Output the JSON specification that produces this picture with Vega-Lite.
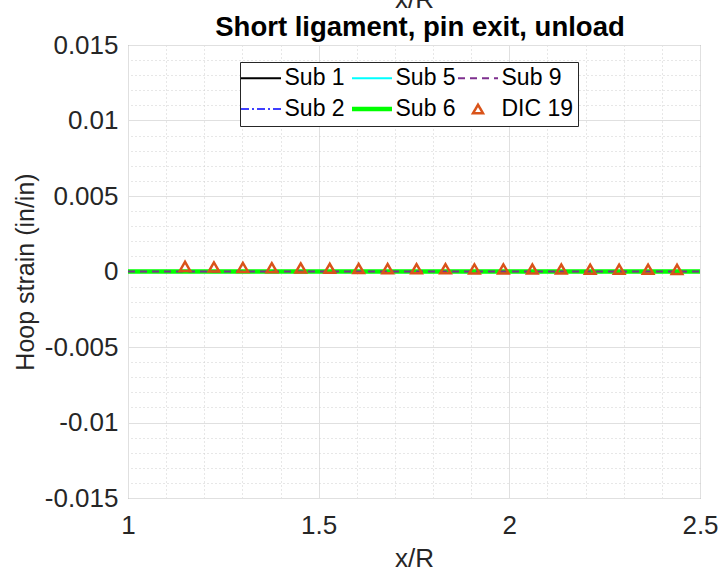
{
  "$schema": "https://vega.github.io/schema/vega-lite/v6.json",
  "width": 572,
  "height": 453,
  "autosize": {"type": "none"},
  "padding": {"left": 128, "top": 45, "right": 18, "bottom": 80},
  "background": "white",
  "title": {
    "text": "Short ligament, pin exit, unload",
    "font": "Liberation Sans",
    "fontSize": 27.5,
    "fontWeight": "bold",
    "color": "black",
    "anchor": "middle",
    "frame": "group",
    "offset": -55,
    "dx": 6
  },
  "config": {
    "view": {"stroke": "#808080", "strokeWidth": 1},
    "axis": {
      "labelFont": "Liberation Sans",
      "labelFontSize": 26,
      "labelColor": "#262626",
      "titleFont": "Liberation Sans",
      "titleFontSize": 25,
      "titleFontWeight": "normal",
      "titleColor": "#262626",
      "domain": false,
      "ticks": false,
      "labelFlush": false
    },
    "legend": {
      "labelFont": "Liberation Sans",
      "labelFontSize": 23,
      "labelColor": "black"
    }
  },
  "datasets": {
    "lines": [
      {"series": "Sub 1", "x": 1, "strain": 0},
      {"series": "Sub 1", "x": 2.5, "strain": 0},
      {"series": "Sub 2", "x": 1, "strain": 0},
      {"series": "Sub 2", "x": 2.5, "strain": 0},
      {"series": "Sub 5", "x": 1, "strain": 0},
      {"series": "Sub 5", "x": 2.5, "strain": 0},
      {"series": "Sub 6", "x": 1, "strain": 0},
      {"series": "Sub 6", "x": 2.5, "strain": 0},
      {"series": "Sub 9", "x": 1, "strain": 0},
      {"series": "Sub 9", "x": 2.5, "strain": 0}
    ],
    "dic": [
      {"series": "DIC 19", "x": 1.1495, "strain": 0.00034},
      {"series": "DIC 19", "x": 1.2254, "strain": 0.0003},
      {"series": "DIC 19", "x": 1.3013, "strain": 0.00027},
      {"series": "DIC 19", "x": 1.3772, "strain": 0.00025},
      {"series": "DIC 19", "x": 1.4531, "strain": 0.00023},
      {"series": "DIC 19", "x": 1.529, "strain": 0.00021},
      {"series": "DIC 19", "x": 1.6049, "strain": 0.0002},
      {"series": "DIC 19", "x": 1.6808, "strain": 0.00019},
      {"series": "DIC 19", "x": 1.7567, "strain": 0.00018},
      {"series": "DIC 19", "x": 1.8326, "strain": 0.00018},
      {"series": "DIC 19", "x": 1.9085, "strain": 0.00017},
      {"series": "DIC 19", "x": 1.9844, "strain": 0.00017},
      {"series": "DIC 19", "x": 2.0603, "strain": 0.00016},
      {"series": "DIC 19", "x": 2.1362, "strain": 0.00016},
      {"series": "DIC 19", "x": 2.2121, "strain": 0.00015},
      {"series": "DIC 19", "x": 2.288, "strain": 0.00015},
      {"series": "DIC 19", "x": 2.3639, "strain": 0.00015},
      {"series": "DIC 19", "x": 2.4397, "strain": 0.00014}
    ]
  },
  "layer": [
    {
      "data": {"name": "lines"},
      "mark": {"type": "line"},
      "encoding": {
        "x": {
          "field": "x", "type": "quantitative",
          "scale": {"domain": [1, 2.5], "nice": false, "zero": false},
          "axis": {
            "orient": "top",
            "title": "x/R",
            "titleFontSize": 26,
            "titlePadding": 33,
            "labels": false,
            "values": [1.1, 1.2, 1.3, 1.4, 1.6, 1.7, 1.8, 1.9, 2.1, 2.2, 2.3, 2.4],
            "grid": true,
            "gridDash": [1, 3],
            "gridColor": "#cfcfcf",
            "gridWidth": 1
          }
        },
        "y": {
          "field": "strain", "type": "quantitative",
          "scale": {"domain": [-0.015, 0.015], "nice": false, "zero": false},
          "axis": {
            "orient": "right",
            "title": null,
            "labels": false,
            "values": [-0.014, -0.013, -0.012, -0.011, -0.009, -0.008, -0.007, -0.006, -0.004, -0.003, -0.002, -0.001, 0.001, 0.002, 0.003, 0.004, 0.006, 0.007, 0.008, 0.009, 0.011, 0.012, 0.013, 0.014],
            "grid": true,
            "gridDash": [1, 3],
            "gridColor": "#cfcfcf",
            "gridWidth": 1
          }
        },
        "color": {
          "field": "series", "type": "nominal",
          "scale": {
            "domain": ["Sub 1", "Sub 5", "Sub 9", "Sub 2", "Sub 6", "DIC 19"],
            "range": ["#000000", "#00FFFF", "#7E2F8E", "#0000FF", "#00FF00", "#D95319"]
          },
          "legend": {
            "title": null,
            "orient": "none",
            "legendX": 112,
            "legendY": 17,
            "columns": 3,
            "direction": "horizontal",
            "strokeColor": "#262626",
            "fillColor": "white",
            "padding": 4.5,
            "columnPadding": -3,
            "rowPadding": 7,
            "labelOffset": 12,
            "symbolOffset": 5,
            "symbolSize": 400,
            "symbolStrokeWidth": 2,
            "encode": {
              "symbols": {
                "update": {
                  "size": {"signal": "datum.value === 'DIC 19' ? 100 : 400"},
                  "strokeWidth": {"signal": "datum.value === 'Sub 6' ? 4.5 : (datum.value === 'Sub 2' ? 1.5 : (datum.value === 'DIC 19' ? 2.5 : 2))"}
                }
              }
            }
          }
        },
        "strokeDash": {
          "field": "series", "type": "nominal",
          "scale": {
            "domain": ["Sub 1", "Sub 5", "Sub 9", "Sub 2", "Sub 6", "DIC 19"],
            "range": [[1, 0], [1, 0], [7, 5], [8, 3, 2, 3], [1, 0], [1, 0]]
          },
          "legend": {"title": null}
        },
        "strokeWidth": {
          "condition": [
            {"test": "datum.series === 'Sub 6'", "value": 4.5},
            {"test": "datum.series === 'Sub 2'", "value": 1.5}
          ],
          "value": 2
        }
      }
    },
    {
      "data": {"name": "dic"},
      "mark": {"type": "point", "filled": false, "strokeWidth": 2.5, "opacity": 1, "size": 110},
      "encoding": {
        "x": {
          "field": "x", "type": "quantitative",
          "axis": {
            "orient": "bottom",
            "title": "x/R",
            "titleFontSize": 26,
            "values": [1, 1.5, 2, 2.5],
            "format": "~g",
            "labelPadding": 14,
            "titlePadding": 7,
            "grid": true,
            "gridColor": "#e0e0e0",
            "gridWidth": 1
          }
        },
        "y": {
          "field": "strain", "type": "quantitative",
          "axis": {
            "orient": "left",
            "title": "Hoop strain (in/in)",
            "values": [-0.015, -0.01, -0.005, 0, 0.005, 0.01, 0.015],
            "labelExpr": "datum.value == 0 ? '0' : (datum.value < 0 ? '-' : '') + format(abs(datum.value), '~g')",
            "labelPadding": 10,
            "titlePadding": 6,
            "grid": true,
            "gridColor": "#e0e0e0",
            "gridWidth": 1
          }
        },
        "color": {"field": "series", "type": "nominal"},
        "shape": {
          "field": "series", "type": "nominal",
          "scale": {
            "domain": ["Sub 1", "Sub 5", "Sub 9", "Sub 2", "Sub 6", "DIC 19"],
            "range": ["M-2,0L2,0", "M-2,0L2,0", "M-2,0L2,0", "M-2,0L2,0", "M-2,0L2,0", "triangle-up"]
          },
          "legend": {"title": null}
        }
      }
    }
  ],
  "resolve": {"axis": {"x": "independent", "y": "independent"}}
}
